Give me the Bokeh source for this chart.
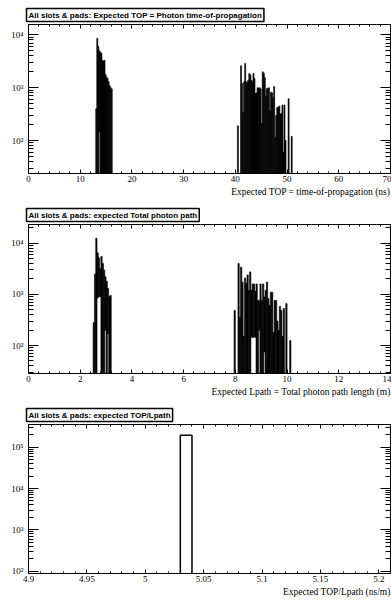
import numpy as np
from bokeh.plotting import figure
from bokeh.models import (Range1d, FixedTicker, LinearAxis, LogAxis, Title,
                          CustomJSTickFormatter, ColumnDataSource)
from bokeh.layouts import column
from bokeh.embed import file_html
from bokeh.resources import INLINE

# ---------------- Panel 1: expected time of propagation ----------------
tof_title = "All slots & pads: Expected TOP = Photon time-of-propagation"
tof_xtitle = "Expected TOP = time-of-propagation (ns)"
tof_bin = 0.2
tof_c1_start = 13.0
tof_c1_hi = [400, 8600, 6000, 5000, 4700, 4500, 3300, 3200, 3300, 1800,
             1600, 1500, 1300, 1100, 1000, 950]
tof_c1_lo = [0, 0, 0, 145, 0, 0, 0, 0, 0, 0,
             0, 0, 0, 0, 0, 0]
tof_c2_start = 40.4
tof_c2_hi = [190, 0, 0, 2600, 1200, 340, 1300, 2870, 1300, 1250,
             1400, 1850, 1750, 1380, 1300, 1850, 1500, 780, 800, 1000,
             980, 1000, 950, 210, 2000, 1900, 1550, 700, 960, 980,
             1000, 370, 820, 800, 650, 1050, 115, 300, 420, 420,
             450, 320, 320, 470, 60, 470, 100, 0, 0, 620,
             0, 0, 120]
tof_c2_lo = [0] * len(tof_c2_hi)
tof_xrange = (0.0, 70.0)
tof_yrange = (23.8, 15700.0)
tof_xticks = [0, 10, 20, 30, 40, 50, 60, 70]
tof_xtick_labels = ["0", "10", "20", "30", "40", "50", "60", "70"]
tof_xminor_step = 2.0
tof_yticks = [100, 1000, 10000]
tof_ytick_labels = ["10\u00b2", "10\u00b3", "10\u2074"]

# ---------------- Panel 2: expected total photon path length ----------------
path_title = "All slots & pads: expected Total photon path"
path_xtitle = "Expected Lpath = Total photon path length (m)"
path_bin = 0.05
path_c1_start = 2.50
path_c1_hi = [280, 2500, 12500, 6500, 5200, 3200, 5500, 4000, 3000, 2200,
              1800, 1300, 900, 950]
path_c1_lo = [0, 0, 0, 850, 900, 900, 0, 0, 0, 200,
              0, 170, 0, 0]
path_c2_start = 7.95
path_c2_hi = [485, 0, 0, 4000, 360, 3400, 1740, 150, 2100, 1650,
              2400, 1200, 2750, 1200, 1600, 1600, 1150, 1600, 760, 760,
              1600, 760, 1600, 890, 1200, 1740, 830, 610, 1100, 1100,
              180, 760, 760, 300, 200, 580, 485, 150, 530, 0,
              660, 0, 0, 125]
path_c2_lo = [0, 0, 0, 0, 0, 0, 0, 0, 0, 0,
              0, 0, 0, 145, 145, 145, 145, 0, 0, 200,
              0, 0, 0, 75, 0, 0, 0, 0, 0, 0,
              0, 0, 0, 0, 0, 0, 0, 0, 0, 0,
              0, 0, 0, 0]
path_xrange = (0.0, 14.0)
path_yrange = (28.4, 23200.0)
path_xticks = [0, 2, 4, 6, 8, 10, 12, 14]
path_xtick_labels = ["0", "2", "4", "6", "8", "10", "12", "14"]
path_xminor_step = 0.4
path_yticks = [100, 1000, 10000]
path_ytick_labels = ["10\u00b2", "10\u00b3", "10\u2074"]

# ---------------- Panel 3: expected TOP / Lpath ----------------
ratio_title = "All slots & pads: expected TOP/Lpath"
ratio_xtitle = "Expected TOP/Lpath (ns/m)"
ratio_left = [5.03]
ratio_right = [5.04]
ratio_count = [195000]
ratio_xrange = (4.9, 5.21)
ratio_yrange = (88.0, 354000.0)
ratio_xticks = [4.9, 4.95, 5.0, 5.05, 5.1, 5.15, 5.2]
ratio_xtick_labels = ["4.9", "4.95", "5", "5.05", "5.1", "5.15", "5.2"]
ratio_xminor_step = 0.01
ratio_yticks = [100, 1000, 10000, 100000]
ratio_ytick_labels = ["10\u00b2", "10\u00b3", "10\u2074", "10\u2075"]

W = 391
FRAME_L, FRAME_R, FRAME_T = 28, 1, 24
SERIF = "Liberation Serif"
SANS = "Liberation Sans"

LABEL_JS = """
let best = -1, bd = Infinity;
for (let i = 0; i < tv.length; i++) {
  const d = Math.abs(tv[i] - tick);
  if (d < bd) { bd = d; best = i; }
}
return (best >= 0 && bd <= 1e-6 * Math.max(1, Math.abs(tick))) ? tl[best] : "";
"""


def labeller(tick_values, tick_labels):
    return CustomJSTickFormatter(args=dict(tv=list(tick_values), tl=list(tick_labels)), code=LABEL_JS)


def blank():
    return CustomJSTickFormatter(code="return '';")


def minor_linear(lo, hi, step, majors):
    n = int(round((hi - lo) / step))
    vals = [round(lo + i * step, 6) for i in range(n + 1)]
    return [v for v in vals if all(abs(v - m) > 1e-9 for m in majors)]


def minor_log(lo, hi):
    out = []
    for e in range(0, 8):
        for k in range(2, 10):
            v = k * 10 ** e
            if lo <= v <= hi:
                out.append(v)
    return out


def bins_to_quads(start, width, hi, lo, floor):
    left, right, top, bottom = [], [], [], []
    for i, (h, l) in enumerate(zip(hi, lo)):
        if h <= 0:
            continue
        x0 = start + i * width
        left.append(x0)
        right.append(x0 + width)
        top.append(h)
        bottom.append(l if l > 0 else floor)
    return dict(left=left, right=right, top=top, bottom=bottom)


def style_axes(p, xr, yr, xticks, xlabels, xstep, yticks, ylabels):
    xminor = minor_linear(xr[0], xr[1], xstep, xticks)
    yminor = minor_log(yr[0], yr[1])
    xa = p.xaxis[0]
    xa.ticker = FixedTicker(ticks=xticks, minor_ticks=xminor)
    xa.formatter = labeller(xticks, xlabels)
    ya = p.yaxis[0]
    ya.ticker = FixedTicker(ticks=yticks, minor_ticks=yminor)
    ya.formatter = labeller(yticks, ylabels)

    top_ax = LinearAxis(ticker=FixedTicker(ticks=xticks, minor_ticks=xminor), formatter=blank())
    right_ax = LogAxis(ticker=FixedTicker(ticks=yticks, minor_ticks=yminor), formatter=blank())
    p.add_layout(top_ax, "above")
    p.add_layout(right_ax, "right")

    for ax in (xa, top_ax):
        ax.major_tick_in = 4
        ax.major_tick_out = 0
        ax.minor_tick_in = 2
        ax.minor_tick_out = 0
    for ax in (ya, right_ax):
        ax.major_tick_in = 10
        ax.major_tick_out = 0
        ax.minor_tick_in = 5
        ax.minor_tick_out = 0
    for ax in (xa, ya, top_ax, right_ax):
        ax.axis_line_color = "black"
        ax.major_tick_line_color = "black"
        ax.minor_tick_line_color = "black"
        ax.major_label_text_font = SERIF
        ax.major_label_text_font_size = "9px"
        ax.major_label_text_color = "black"
    for ax in (top_ax, right_ax):
        ax.major_label_standoff = 0
        ax.major_label_text_font_size = "0px"
    xa.major_label_standoff = 2
    ya.major_label_standoff = 5


def make_panel(height, xr, yr, title, xtitle, xticks, xlabels, xstep, yticks, ylabels):
    p = figure(width=W, height=height, x_range=Range1d(*xr), y_range=Range1d(*yr),
               y_axis_type="log", output_backend="svg", toolbar_location=None,
               min_border_left=FRAME_L, min_border_right=FRAME_R,
               min_border_top=FRAME_T, min_border_bottom=height - 173)
    p.grid.visible = False
    p.outline_line_color = "black"
    p.outline_line_width = 1
    p.background_fill_color = "white"
    p.border_fill_color = "white"

    t = p.title
    t.text = title
    t.align = "left"
    t.offset = -2
    t.standoff = 6
    t.text_font = SANS
    t.text_font_size = "8px"
    t.text_font_style = "bold"
    t.text_color = "black"
    t.background_fill_color = "white"
    t.border_line_color = "black"
    t.border_line_width = 1.5
    t.padding = 2

    style_axes(p, xr, yr, xticks, xlabels, xstep, yticks, ylabels)

    xt = Title(text=xtitle, align="right", offset=0, standoff=0,
               text_font=SERIF, text_font_size="9.5px", text_font_style="normal",
               text_color="black")
    p.add_layout(xt, "below")
    return p


# Panel 1
p1 = make_panel(200, tof_xrange, tof_yrange, tof_title, tof_xtitle,
                tof_xticks, tof_xtick_labels, tof_xminor_step, tof_yticks, tof_ytick_labels)
for start, hi, lo in ((tof_c1_start, tof_c1_hi, tof_c1_lo), (tof_c2_start, tof_c2_hi, tof_c2_lo)):
    src = ColumnDataSource(bins_to_quads(start, tof_bin, hi, lo, 1.0))
    p1.quad(left="left", right="right", top="top", bottom="bottom", source=src,
            fill_color="black", line_color="black", line_width=0.6)

# Panel 2
p2 = make_panel(200, path_xrange, path_yrange, path_title, path_xtitle,
                path_xticks, path_xtick_labels, path_xminor_step, path_yticks, path_ytick_labels)
for start, hi, lo in ((path_c1_start, path_c1_hi, path_c1_lo), (path_c2_start, path_c2_hi, path_c2_lo)):
    src = ColumnDataSource(bins_to_quads(start, path_bin, hi, lo, 1.0))
    p2.quad(left="left", right="right", top="top", bottom="bottom", source=src,
            fill_color="black", line_color="black", line_width=0.6)

# Panel 3
p3 = make_panel(201, ratio_xrange, ratio_yrange, ratio_title, ratio_xtitle,
                ratio_xticks, ratio_xtick_labels, ratio_xminor_step, ratio_yticks, ratio_ytick_labels)
src3 = ColumnDataSource(dict(left=ratio_left, right=ratio_right, top=ratio_count,
                             bottom=[1.0] * len(ratio_count)))
p3.quad(left="left", right="right", top="top", bottom="bottom", source=src3,
        fill_color="white", line_color="black", line_width=1.5)

layout = column(p1, p2, p3, spacing=0)
open("out.html", "w").write(file_html(layout, INLINE))
